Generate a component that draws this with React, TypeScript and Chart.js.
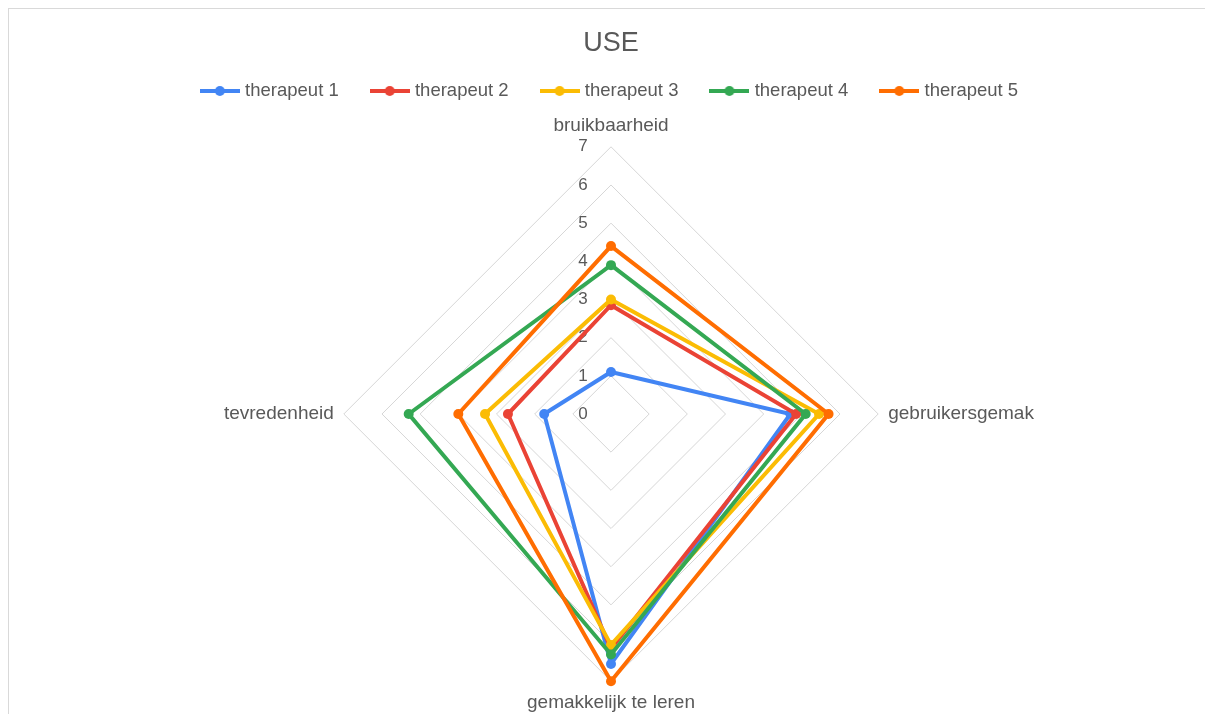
import React, { useEffect, useRef } from "react";
import { Chart, registerables } from "chart.js";

Chart.register(...registerables);

const TITLE = "USE";
const AXIS_LABELS = ["bruikbaarheid", "gebruikersgemak", "gemakkelijk te leren", "tevredenheid"];
const SERIES_NAMES = ["therapeut 1", "therapeut 2", "therapeut 3", "therapeut 4", "therapeut 5"];
const THERAPEUT_1 = [1.1, 4.7, 6.55, 1.75];
const THERAPEUT_2 = [2.85, 4.85, 6.15, 2.7];
const THERAPEUT_3 = [3.0, 5.45, 6.05, 3.3];
const THERAPEUT_4 = [3.9, 5.1, 6.3, 5.3];
const THERAPEUT_5 = [4.4, 5.7, 7.0, 4.0];
const SERIES_VALUES = [THERAPEUT_1, THERAPEUT_2, THERAPEUT_3, THERAPEUT_4, THERAPEUT_5];
const COLORS = ["#4285F4", "#EA4335", "#FBBC04", "#34A853", "#FF6D01"];
const SCALE_MIN = 0;
const SCALE_MAX = 7;
const SCALE_STEP = 1;

const FONT = "'Liberation Sans', Arial, sans-serif";
const TEXT_COLOR = "#595959";

function makeLegendIcon(color: string): HTMLCanvasElement {
  const c = document.createElement("canvas");
  c.width = 40;
  c.height = 12;
  const g = c.getContext("2d")!;
  g.strokeStyle = color;
  g.lineWidth = 4;
  g.beginPath();
  g.moveTo(0, 6);
  g.lineTo(40, 6);
  g.stroke();
  g.fillStyle = color;
  g.beginPath();
  g.arc(20, 6, 5, 0, Math.PI * 2);
  g.fill();
  return c;
}

export default function App() {
  const canvasRef = useRef<HTMLCanvasElement | null>(null);

  useEffect(() => {
    if (!canvasRef.current) return;
    const icons = COLORS.map(makeLegendIcon);

    const legendSpacer = {
      id: "legendSpacer",
      beforeInit(chart: any) {
        const legend = chart.legend;
        if (!legend) return;
        const origFit = legend.fit;
        legend.fit = function () {
          origFit.call(this);
          this.height += 3.75;
        };
      },
    };

    const tickLabels = {
      id: "tickLabels",
      beforeDatasetsDraw(chart: any) {
        const s = chart.scales.r;
        const ctx = chart.ctx;
        ctx.save();
        ctx.font = `17px ${FONT}`;
        ctx.fillStyle = TEXT_COLOR;
        ctx.textAlign = "center";
        ctx.textBaseline = "middle";
        s.ticks.forEach((t: any) => {
          const d = s.getDistanceFromCenterForValue(t.value);
          ctx.fillText(String(t.value), s.xCenter - 28, s.yCenter - d);
        });
        ctx.restore();
      },
    };

    const chart = new Chart(canvasRef.current, {
      type: "radar",
      data: {
        labels: AXIS_LABELS,
        datasets: SERIES_VALUES.map((vals, i) => ({
          label: SERIES_NAMES[i],
          data: vals,
          borderColor: COLORS[i],
          backgroundColor: COLORS[i],
          pointBackgroundColor: COLORS[i],
          pointBorderColor: COLORS[i],
          pointBorderWidth: 0,
          pointRadius: 5,
          borderWidth: 4,
          fill: false,
          order: SERIES_VALUES.length - 1 - i,
        })),
      },
      options: {
        animation: false,
        responsive: true,
        maintainAspectRatio: false,
        layout: { padding: { left: 8, right: 0, top: 0, bottom: 0 } },
        plugins: {
          title: {
            display: true,
            text: TITLE,
            color: TEXT_COLOR,
            font: { family: FONT, size: 27, weight: "normal" },
            padding: { top: 18.3, bottom: -12.95 },
          },
          legend: {
            display: true,
            position: "top",
            labels: {
              usePointStyle: true,
              pointStyleWidth: 32,
              padding: 35,
              color: TEXT_COLOR,
              font: { family: FONT, size: 18.5 },
              sort: (a: any, b: any) => a.datasetIndex - b.datasetIndex,
              generateLabels: (ch: any) => {
                const items = (Chart.defaults.plugins.legend.labels as any).generateLabels(ch);
                return items.map((it: any) => ({ ...it, pointStyle: icons[it.datasetIndex] }));
              },
            },
          },
          tooltip: { enabled: false },
        },
        scales: {
          r: {
            min: SCALE_MIN,
            max: SCALE_MAX,
            startAngle: 0,
            ticks: { stepSize: SCALE_STEP, display: false },
            grid: { color: "#d6d6d6", lineWidth: 1, circular: false },
            angleLines: { display: false },
            pointLabels: {
              color: TEXT_COLOR,
              font: { family: FONT, size: 19 },
              padding: 10,
            },
          },
        },
      } as any,
      plugins: [legendSpacer, tickLabels],
    });

    return () => chart.destroy();
  }, []);

  return (
    <div
      style={{
        position: "fixed",
        left: 8,
        top: 8,
        right: 0,
        bottom: 0,
        borderTop: "1px solid #d9d9d9",
        borderLeft: "1px solid #d9d9d9",
        boxSizing: "border-box",
        background: "#fff",
      }}
    >
      <div style={{ position: "relative", width: "100%", height: "100%" }}>
        <canvas ref={canvasRef} />
      </div>
    </div>
  );
}
